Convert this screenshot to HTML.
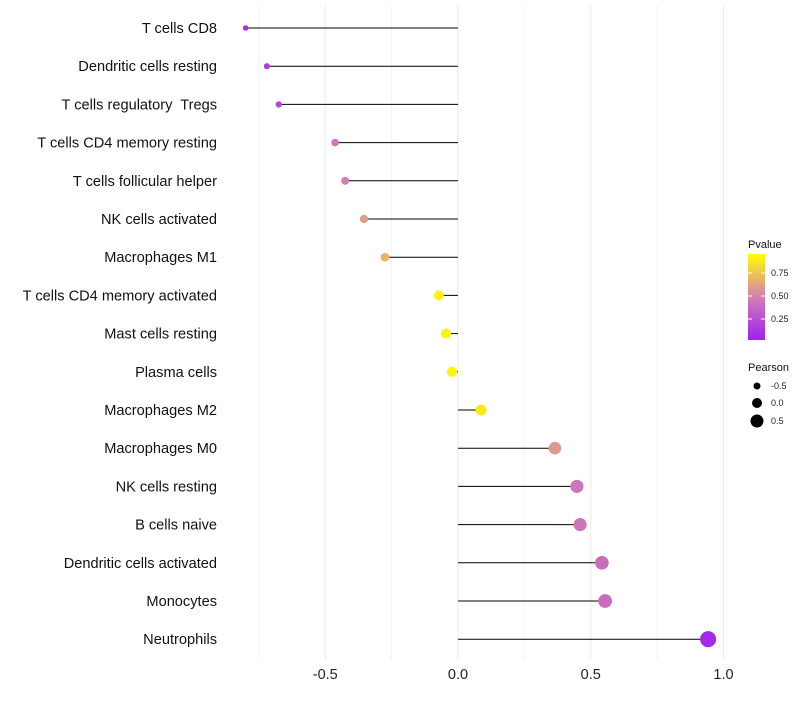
<!DOCTYPE html>
<html><head><meta charset="utf-8"><style>
body{margin:0;background:#fff;font-family:"Liberation Sans",sans-serif}
text{white-space:pre}
</style></head><body>
<svg id="c" width="800" height="700" xmlns="http://www.w3.org/2000/svg">
<defs><linearGradient id="g" x1="0" y1="1" x2="0" y2="0">
<stop offset="0" stop-color="#a020f0"/><stop offset="0.5" stop-color="#d27fb3"/><stop offset="1" stop-color="#ffff00"/></linearGradient></defs>
</svg>
<script>
const cells=["T cells CD8","Dendritic cells resting","T cells regulatory  Tregs","T cells CD4 memory resting","T cells follicular helper","NK cells activated","Macrophages M1","T cells CD4 memory activated","Mast cells resting","Plasma cells","Macrophages M2","Macrophages M0","NK cells resting","B cells naive","Dendritic cells activated","Monocytes","Neutrophils"];
const pearson=[-0.80,-0.72,-0.675,-0.463,-0.425,-0.354,-0.275,-0.072,-0.045,-0.023,0.087,0.365,0.448,0.46,0.542,0.554,0.942];
const pvalue=[0.08,0.15,0.2,0.45,0.5,0.62,0.72,0.95,0.95,0.97,0.92,0.6,0.45,0.45,0.4,0.4,0.05];
const xTicks=[-0.5,0,0.5,1.0];
const xTickLabels=["-0.5","0.0","0.5","1.0"];
const xMinor=[-0.75,-0.25,0.25,0.75];
const svg=document.getElementById('c');
const NS="http://www.w3.org/2000/svg";
const X=v=>458+v*265.5;
const Y=i=>28+i*38.2;
function mk(t,a){const e=document.createElementNS(NS,t);for(const k in a)e.setAttribute(k,a[k]);svg.appendChild(e);return e;}
function lerp(a,b,t){return a+(b-a)*t}
function col(p){const s=[[160,32,240],[210,127,179],[255,255,0]];let t=Math.max(0,Math.min(1,p));let a,b,u;if(t<0.5){a=s[0];b=s[1];u=t/0.5}else{a=s[1];b=s[2];u=(t-0.5)/0.5}return`rgb(${a.map((x,i)=>Math.round(lerp(x,b[i],u))).join(',')})`}
xMinor.forEach(v=>{const l=mk('line',{x1:X(v),x2:X(v),y1:5,y2:660,stroke:'#f2f2f2','stroke-width':1});});
xTicks.forEach((v,i)=>{const l=mk('line',{x1:X(v),x2:X(v),y1:5,y2:660,stroke:'#ebebeb','stroke-width':1});
const t=mk('text',{x:X(v),y:679,'text-anchor':'middle','font-size':14.5,fill:'#222'});t.textContent=xTickLabels[i];});
cells.forEach((c,i)=>{const l=mk('line',{x1:X(0),x2:X(pearson[i]),y1:Y(i),y2:Y(i),stroke:'#000','stroke-width':1});
const t=mk('text',{x:217,y:Y(i)+5,'text-anchor':'end','font-size':14.6,fill:'#111'});t.textContent=c;
const p=mk('circle',{cx:X(pearson[i]),cy:Y(i),r:Math.max(1.5,5.2+3*pearson[i]),fill:col(pvalue[i])});});
const lt=mk('text',{x:748,y:248,'font-size':11,fill:'#111'});lt.textContent='Pvalue';
const cb=mk('rect',{x:748,y:254,width:17,height:86,fill:'url(#g)'});
[[0.75,273],[0.5,296],[0.25,319]].forEach(([v,y])=>{const t=mk('text',{x:771,y:y+3,'font-size':9,fill:'#222'});t.textContent=v.toFixed(2);
const k=mk('line',{x1:748,x2:752,y1:y,y2:y,stroke:'#fff'});
const k2=mk('line',{x1:761,x2:765,y1:y,y2:y,stroke:'#fff'});});
const st=mk('text',{x:748,y:371,'font-size':11,fill:'#111'});st.textContent='Pearson';
[[-0.5,386,'-0.5',3.5],[0,403,'0.0',5],[0.5,421,'0.5',6.5]].forEach(([v,y,lab,r])=>{const c=mk('circle',{cx:757,cy:y,r:r,fill:'#000'});
const t=mk('text',{x:771,y:y+3,'font-size':9,fill:'#222'});t.textContent=lab;});
</script>
</body></html>
